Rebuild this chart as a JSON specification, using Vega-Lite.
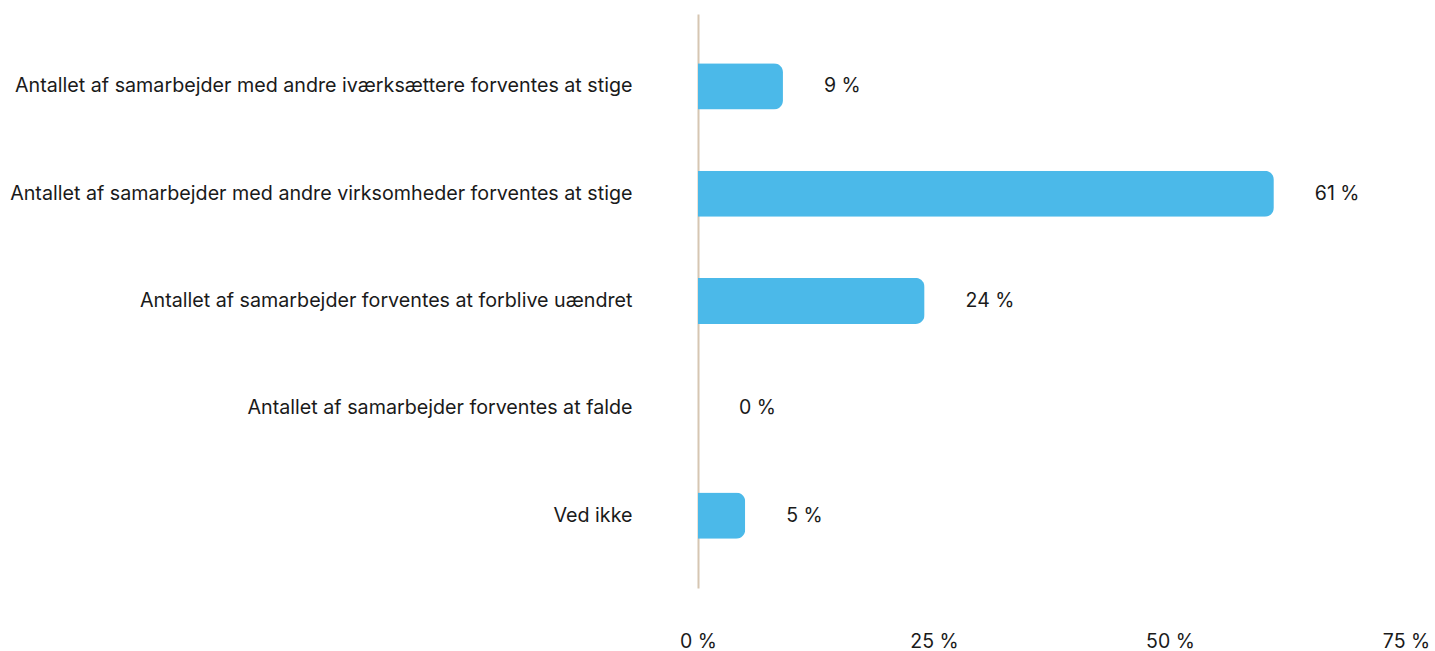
{
  "$schema": "https://vega.github.io/schema/vega-lite/v6.json",
  "width": 708,
  "height": 574,
  "autosize": {"type": "none"},
  "padding": {"left": 698, "top": 14, "right": 29, "bottom": 63},
  "background": "#ffffff",
  "config": {
    "view": {"stroke": null},
    "font": "Inter",
    "axis": {"labelFont": "Inter", "labelFontSize": 19.7, "labelColor": "#1a1a1a", "grid": false, "ticks": false, "title": null}
  },
  "data": {
    "values": [
      {"svar": "Antallet af samarbejder med andre iværksættere forventes at stige", "andel": 9},
      {"svar": "Antallet af samarbejder med andre virksomheder forventes at stige", "andel": 61},
      {"svar": "Antallet af samarbejder forventes at forblive uændret", "andel": 24},
      {"svar": "Antallet af samarbejder forventes at falde", "andel": 0},
      {"svar": "Ved ikke", "andel": 5}
    ]
  },
  "transform": [
    {"calculate": "datum.andel + ' %'", "as": "etiket"}
  ],
  "encoding": {
    "y": {
      "field": "svar",
      "type": "nominal",
      "sort": null,
      "scale": {"paddingInner": 0.57, "paddingOuter": 0.46},
      "axis": {"domain": true, "domainColor": "#D6C6B2", "domainWidth": 2, "labelPadding": 66, "labelLimit": 700}
    }
  },
  "layer": [
    {
      "mark": {"type": "bar", "color": "#4BB9E9", "cornerRadiusEnd": 9},
      "encoding": {
        "x": {
          "field": "andel",
          "type": "quantitative",
          "scale": {"domain": [0, 75], "nice": false},
          "axis": {"values": [0, 25, 50, 75], "labelExpr": "datum.value + ' %'", "domain": false, "labelPadding": 44, "labelFontSize": 19.5, "labelFlush": false}
        }
      }
    },
    {
      "mark": {"type": "text", "align": "left", "baseline": "middle", "dx": 41, "fontSize": 19.5, "color": "#1a1a1a", "font": "Inter"},
      "encoding": {
        "x": {"field": "andel", "type": "quantitative"},
        "text": {"field": "etiket", "type": "nominal"}
      }
    }
  ]
}
